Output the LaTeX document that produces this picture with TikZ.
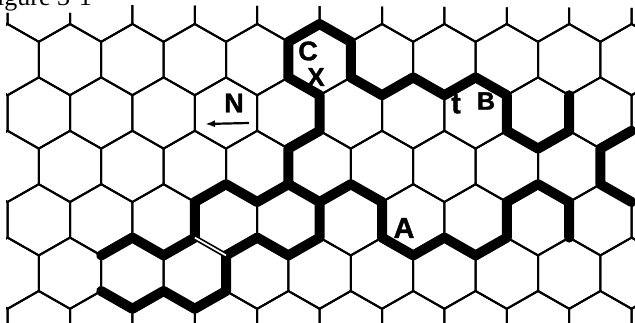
\documentclass[tikz,border=0pt]{standalone}
\usepackage{fontspec}
\setmainfont{Liberation Serif}
\newfontfamily\labfont[BoldFeatures={FakeBold=1.2}]{Liberation Sans}
\usetikzlibrary{arrows.meta}
\begin{document}
\begin{tikzpicture}[x=1pt,y=-1pt,
  gridline/.style={line width=2pt, line join=miter},
  wall/.style={line width=10pt, line join=round, line cap=round},
  lab/.style={font=\labfont\bfseries\fontsize{27}{27}\selectfont, inner sep=0pt}]
\useasboundingbox (0,0) rectangle (635,323);
\fill[white] (0,0) rectangle (635,323);
\node[anchor=base west, inner sep=0pt, font=\fontsize{26}{26}\selectfont] (cap) at (-3,6) {igure 3-1};
\begin{scope}
\clip (6,13) -- (100,13) -- (100,5) -- (635,8) -- (635,323) -- (6,323) -- cycle;
\foreach \r in {-1,...,6} {
  \foreach \c in {-1,...,11} {
    \pgfmathsetmacro\X{7.6+62.4*\c+31.2*mod(\r+2,2)}
    \pgfmathsetmacro\Y{59.6+53.4*\r}
    \draw[gridline] (\X,\Y-35.6) -- ++(31.2,17.8) -- ++(0,35.6) -- ++(-31.2,17.8) -- ++(-31.2,-17.8) -- ++(0,-35.6) -- cycle;
  }
}
\foreach \i in {0,...,21} {
  \foreach \L in {0,...,12} {
    \coordinate (v\i-\L) at ({7.6+31.2*\i},{24+26.7*\L-8.9*mod(\L,2)});
  }
}
% thick walls
\draw[wall] (v9-2) -- (v9-1) -- (v10-0) -- (v11-1) -- (v11-2) -- (v12-3) -- (v13-2) -- (v14-3) -- (v15-2) -- (v16-3) -- (v16-4) -- (v17-5) -- (v18-4) -- (v18-3);
\draw[wall] (v9-2) -- (v10-3) -- (v10-4) -- (v9-5) -- (v9-6);
\draw[wall] (v18-8) -- (v18-7) -- (v17-6) -- (v16-7) -- (v16-8) -- (v15-9) -- (v14-8) -- (v13-9) -- (v12-8) -- (v12-7) -- (v11-6) -- (v10-7) -- (v10-8) -- (v9-9) -- (v8-8) -- (v7-9) -- (v7-10) -- (v6-11) -- (v5-10) -- (v4-11) -- (v3-10);
\draw[wall] (v10-7) -- (v9-6) -- (v8-7) -- (v7-6) -- (v6-7) -- (v6-8) -- (v5-9) -- (v4-8) -- (v3-9);
\draw[wall] (v20-4) -- (v19-5) -- (v19-6) -- (v20-7);
\draw[line width=1.7pt, double=white, double distance=1.8pt] (v6-8) -- (v7-9);
\end{scope}
% labels
\node[lab] (lC) at (308,51) {C};
\node[lab, font=\labfont\bfseries\fontsize{26}{26}\selectfont] (lX) at (316,77) {X};
\node[lab] (lN) at (234,103) {N};
\node[lab, font=\labfont\bfseries\fontsize{29}{29}\selectfont] (lt) at (456,104) {t};
\node[lab, font=\labfont\bfseries\fontsize{25}{25}\selectfont] (lB) at (486,101) {B};
\node[lab, font=\labfont\bfseries\fontsize{29}{29}\selectfont] (lA) at (404,228) {A};
\coordinate (ar1) at (249,123);
\coordinate (ar0) at (205,124);
\draw[line width=2.2pt, -{Latex[length=10pt,width=7pt]}] (ar1) -- (ar0);
\end{tikzpicture}
\end{document}
